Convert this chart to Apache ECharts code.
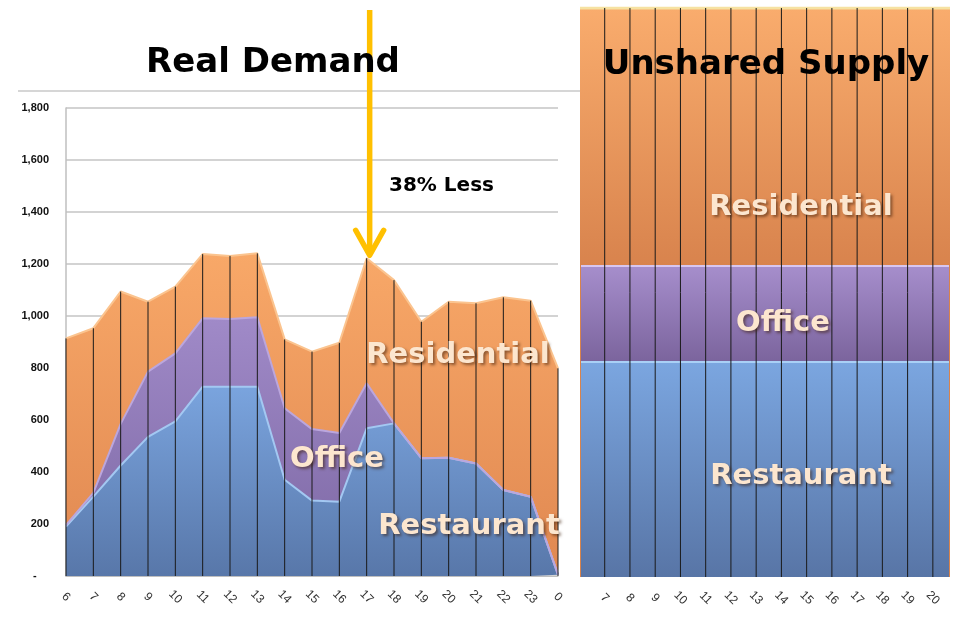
<!DOCTYPE html>
<html>
<head>
<meta charset="utf-8">
<script src="https://cdn.jsdelivr.net/npm/echarts@6/dist/echarts.min.js"></script>
<style>
  html, body { margin: 0; padding: 0; background: #fff; }
  #main { width: 955px; height: 627px; }
</style>
</head>
<body>
<div id="main"></div>
<script>
// demand by hour (left panel)
const hours = ['6', '7', '8', '9', '10', '11', '12', '13', '14', '15', '16', '17', '18', '19', '20', '21', '22', '23', '0'];
const restaurant = [190, 305, 425, 535, 595, 728, 728, 728, 370, 290, 286, 568, 587, 453, 455, 433, 331, 305, 5];
const office = [6, 15, 160, 251, 261, 263, 260, 267, 275, 275, 264, 173, 0, 0, 0, 0, 0, 0, 0];
const residential = [718, 633, 509, 269, 257, 247, 243, 246, 265, 298, 347, 481, 551, 525, 600, 616, 741, 754, 794];

// unshared supply (right panel, flat per hour)
const supplyHours = [6, 7, 8, 9, 10, 11, 12, 13, 14, 15, 16, 17, 18, 19, 20, 21];
const supplyRestaurant = [756, 756, 756, 756, 756, 756, 756, 756, 756, 756, 756, 756, 756, 756, 756, 756];
const supplyOffice = [337, 337, 337, 337, 337, 337, 337, 337, 337, 337, 337, 337, 337, 337, 337, 337];
const supplyResidential = [907, 907, 907, 907, 907, 907, 907, 907, 907, 907, 907, 907, 907, 907, 907, 907];
const supplyLabels = [7, 8, 9, 10, 11, 12, 13, 14, 15, 16, 17, 18, 19, 20];

const totals = hours.map((h, i) => restaurant[i] + office[i] + residential[i]);

// the right panel has a value x axis, so its bands are layered by hand
const supplyMid = supplyHours.map((h, i) => supplyRestaurant[i] + supplyOffice[i]);
const supplyTop = supplyHours.map((h, i) => supplyMid[i] + supplyResidential[i]);

const chart = echarts.init(document.getElementById('main'));

function grad(top, bottom, end) {
  const stops = [
    { offset: 0, color: top },
    { offset: end === undefined ? 1 : end, color: bottom }
  ];
  if (end !== undefined) stops.push({ offset: 1, color: bottom });
  return new echarts.graphic.LinearGradient(0, 0, 0, 1, stops);
}

// vertical drop lines from the axis up to the value
function dropLine(params, api) {
  const p0 = api.coord([api.value(0), 0]);
  const p1 = api.coord([api.value(0), api.value(1)]);
  return {
    type: 'line',
    shape: { x1: p0[0], y1: p0[1], x2: p1[0], y2: p1[1] },
    style: { stroke: '#1a1a1a', lineWidth: 1 }
  };
}

const bandLabel = {
  fill: '#fce6cf',
  font: 'bold 29px "DejaVu Sans"',
  textShadowColor: 'rgba(60,30,10,0.55)',
  textShadowBlur: 3,
  textShadowOffsetX: 2,
  textShadowOffsetY: 2
};

const xLabel = {
  rotate: -45, margin: 21, color: '#333',
  align: 'center', verticalAlign: 'middle',
  fontFamily: 'Liberation Sans', fontSize: 12
};

const option = {
  backgroundColor: '#ffffff',
  animation: false,
  grid: [
    { left: 66, top: 108, width: 492, height: 468 },
    { left: 582, top: 8, width: 366, height: 569 }
  ],
  xAxis: [
    {
      gridIndex: 0,
      type: 'category',
      data: hours,
      boundaryGap: false,
      axisLine: { show: true, lineStyle: { color: '#bfbfbf' } },
      axisTick: { show: false },
      axisLabel: xLabel
    },
    {
      gridIndex: 1,
      type: 'value',
      min: 6.1,
      max: 20.6,
      axisLine: { show: false },
      axisTick: { show: false },
      splitLine: { show: false },
      axisLabel: Object.assign({ customValues: supplyLabels }, xLabel)
    }
  ],
  yAxis: [
    {
      gridIndex: 0,
      type: 'value',
      min: 0,
      max: 1800,
      interval: 200,
      axisLine: { show: true, lineStyle: { color: '#bfbfbf', width: 1.5 } },
      axisTick: { show: false },
      splitLine: { lineStyle: { color: '#c4c4c4', width: 1.5 } },
      axisLabel: {
        margin: 17, color: '#111',
        fontFamily: 'Liberation Sans', fontSize: 11, fontWeight: 'bold',
        formatter: v => v === 0 ? '-    ' : v.toLocaleString('en-US')
      }
    },
    {
      gridIndex: 1,
      type: 'value',
      min: 0,
      max: 2000,
      show: false
    }
  ],
  series: [
    {
      name: 'Restaurant', type: 'line', stack: 'demand', symbol: 'none',
      data: restaurant,
      lineStyle: { color: '#a3c8f2', width: 2 },
      areaStyle: { color: grad('#7aa4de', '#5877a9'), opacity: 1 },
      z: 2
    },
    {
      name: 'Office', type: 'line', stack: 'demand', symbol: 'none',
      data: office,
      lineStyle: { color: '#bba6dd', width: 2 },
      areaStyle: { color: grad('#a08ac8', '#7c67a3'), opacity: 1 },
      z: 2
    },
    {
      name: 'Residential', type: 'line', stack: 'demand', symbol: 'none',
      data: residential,
      lineStyle: { color: '#fbc48f', width: 2 },
      areaStyle: { color: grad('#f8a868', '#e08851'), opacity: 1 },
      z: 2
    },
    {
      name: 'demandLines', type: 'custom', renderItem: dropLine,
      data: hours.map((h, i) => [i, totals[i]]),
      silent: true, z: 3
    },
    {
      name: 'Supply Residential', type: 'line', symbol: 'none',
      xAxisIndex: 1, yAxisIndex: 1,
      data: supplyHours.map((h, i) => [h, supplyTop[i]]),
      lineStyle: { color: '#f6e2a2', width: 3 },
      areaStyle: { color: grad('#f9ac6d', '#d8834d', supplyResidential[0] / supplyTop[0]), opacity: 1 },
      z: 2
    },
    {
      name: 'Supply Office', type: 'line', symbol: 'none',
      xAxisIndex: 1, yAxisIndex: 1,
      data: supplyHours.map((h, i) => [h, supplyMid[i]]),
      lineStyle: { color: '#d8c6f0', width: 2 },
      areaStyle: { color: grad('#a68ecc', '#7b649d', supplyOffice[0] / supplyMid[0]), opacity: 1 },
      z: 2
    },
    {
      name: 'Supply Restaurant', type: 'line', symbol: 'none',
      xAxisIndex: 1, yAxisIndex: 1,
      data: supplyHours.map((h, i) => [h, supplyRestaurant[i]]),
      lineStyle: { color: '#a9d0f6', width: 2 },
      areaStyle: { color: grad('#7ba6e0', '#5875a6'), opacity: 1 },
      z: 2
    },
    {
      name: 'supplyLines', type: 'custom', renderItem: dropLine,
      xAxisIndex: 1, yAxisIndex: 1,
      data: supplyLabels.map(h => [h, supplyTop[0]]),
      silent: true, z: 3
    }
  ],
  graphic: [
    { type: 'line', id: 'frame', shape: { x1: 18, y1: 91, x2: 583, y2: 91 },
      style: { stroke: '#c8c8c8', lineWidth: 1.5 }, z: -1 },
    { type: 'text', id: 't1', x: 273, y: 63, z: 10,
      style: { text: 'Real Demand', font: 'bold 34px "DejaVu Sans"', fill: '#000', align: 'center', verticalAlign: 'middle' } },
    { type: 'text', id: 't2', x: 766, y: 65, z: 10,
      style: { text: 'Unshared Supply', font: 'bold 34px "DejaVu Sans"', fill: '#000', align: 'center', verticalAlign: 'middle' } },
    { type: 'text', id: 'less', x: 389, y: 186, z: 10,
      style: { text: '38% Less', font: 'bold 20px "DejaVu Sans"', fill: '#000', align: 'left', verticalAlign: 'middle' } },
    { type: 'text', id: 'l1', x: 458, y: 355, z: 10,
      style: Object.assign({ text: 'Residential', align: 'center', verticalAlign: 'middle' }, bandLabel) },
    { type: 'text', id: 'l2', x: 337, y: 459, z: 10,
      style: Object.assign({ text: 'Office', align: 'center', verticalAlign: 'middle' }, bandLabel) },
    { type: 'text', id: 'l3', x: 469, y: 526, z: 10,
      style: Object.assign({ text: 'Restaurant', align: 'center', verticalAlign: 'middle' }, bandLabel) },
    { type: 'text', id: 'r1', x: 801, y: 207, z: 10,
      style: Object.assign({ text: 'Residential', align: 'center', verticalAlign: 'middle' }, bandLabel) },
    { type: 'text', id: 'r2', x: 783, y: 323, z: 10,
      style: Object.assign({ text: 'Office', align: 'center', verticalAlign: 'middle' }, bandLabel) },
    { type: 'text', id: 'r3', x: 801, y: 476, z: 10,
      style: Object.assign({ text: 'Restaurant', align: 'center', verticalAlign: 'middle' }, bandLabel) }
  ]
};

chart.setOption(option);

// yellow arrow pointing at the 17:00 peak
const peak = chart.convertToPixel({ gridIndex: 0 }, [11, totals[11]]);
const tipY = peak[1] - 3;
chart.setOption({
  graphic: [
    { type: 'line', id: 'arrowShaft', z: 9,
      shape: { x1: peak[0] + 3, y1: 10, x2: peak[0] + 3, y2: tipY - 2 },
      style: { stroke: '#ffc000', lineWidth: 5.5 } },
    { type: 'polyline', id: 'arrowHead', z: 9,
      shape: { points: [[peak[0] - 11, tipY - 25], [peak[0] + 3, tipY], [peak[0] + 17, tipY - 25]] },
      style: { stroke: '#ffc000', lineWidth: 5.5, fill: null, lineJoin: 'round', lineCap: 'round' } }
  ]
});
</script>
</body>
</html>
